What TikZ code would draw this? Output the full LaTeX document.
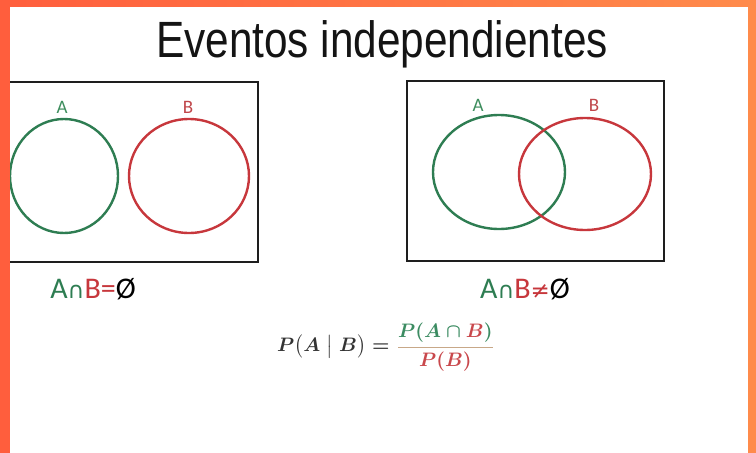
\documentclass[tikz,border=0pt]{standalone}
\usepackage{fontspec}
\setmainfont{Liberation Sans}
\newfontfamily\labfont{Carlito}
\newfontfamily\symbfont{DejaVu Sans}
\definecolor{vgreen}{HTML}{2E7D52}
\definecolor{vred}{HTML}{C7373C}
\definecolor{lgreen}{HTML}{3E8E5E}
\definecolor{lred}{HTML}{C0464A}
\definecolor{boxc}{HTML}{1E1E1E}
\definecolor{fgray}{HTML}{333333}
\definecolor{fbar}{HTML}{C8A888}
\definecolor{mgreen}{HTML}{3C8C62}
\definecolor{mred}{HTML}{C9484C}
\definecolor{orL}{HTML}{FF5E3D}
\definecolor{orR}{HTML}{FF8B4B}
\tikzset{
  boxline/.style={draw=boxc, line width=2.4pt},
  gline/.style={draw=vgreen, line width=2.4pt},
  rline/.style={draw=vred, line width=2.4pt},
  setlabel/.style={font=\labfont\fontsize{19}{22}\selectfont, inner sep=0pt},
  eqlabel/.style={font=\labfont\fontsize{30}{34}\selectfont, inner sep=0pt},
}
\begin{document}
\begin{tikzpicture}[x=1pt,y=-1pt]
\fill[white] (0,0) rectangle (756,453);
\useasboundingbox (0,0) rectangle (756,453);
% title
\node[inner sep=0pt, anchor=base] (title) at (382,57)
  {\scalebox{0.83}[1]{\fontsize{51}{60}\selectfont\color{black!92}Eventos independientes}};
% left diagram
\draw[boxline] (2,82) rectangle (258,262);
\draw[gline] (64,176) ellipse [x radius=54, y radius=57];
\draw[rline] (189,176) ellipse [x radius=60, y radius=57];
\node[setlabel, text=lgreen] (la1) at (62,107) {A};
\node[setlabel, text=lred] (lb1) at (188,107) {B};
\node[eqlabel] (eq1) at (93,289)
  {\textcolor{vgreen}{A{\symbfont\fontsize{23}{26}\selectfont ∩}}\textcolor{vred}{B=}\textcolor{black}{Ø}};
% right diagram
\draw[boxline] (407,81) rectangle (664,261);
\draw[gline] (499,172) ellipse [x radius=66, y radius=57];
\draw[rline] (585,174) ellipse [x radius=66, y radius=56];
\node[setlabel, text=lgreen] (la2) at (478,105) {A};
\node[setlabel, text=lred] (lb2) at (594,105) {B};
\node[eqlabel] (eq2) at (525,289)
  {\textcolor{vgreen}{A{\symbfont\fontsize{23}{26}\selectfont ∩}}\textcolor{vred}{B{\symbfont\fontsize{23}{26}\selectfont ≠}}\textcolor{black}{Ø}};
% formula
\node[inner sep=0pt] (formula) at (386,347)
  {\scalebox{1.95}{\boldmath$\displaystyle \color{fgray}P\bigl(A\bigm|B\bigr) = {\color{fbar}\frac{\color{mgreen}P(A\cap {\color{mred}B})}{\color{mred}P(B)}}$}};
% orange frame
\shade[left color=orL, right color=orR] (0,0) rectangle (756,6);
\fill[orL] (0,0) rectangle (10,453);
\fill[orR] (748,0) rectangle (756,453);
\end{tikzpicture}
\end{document}
